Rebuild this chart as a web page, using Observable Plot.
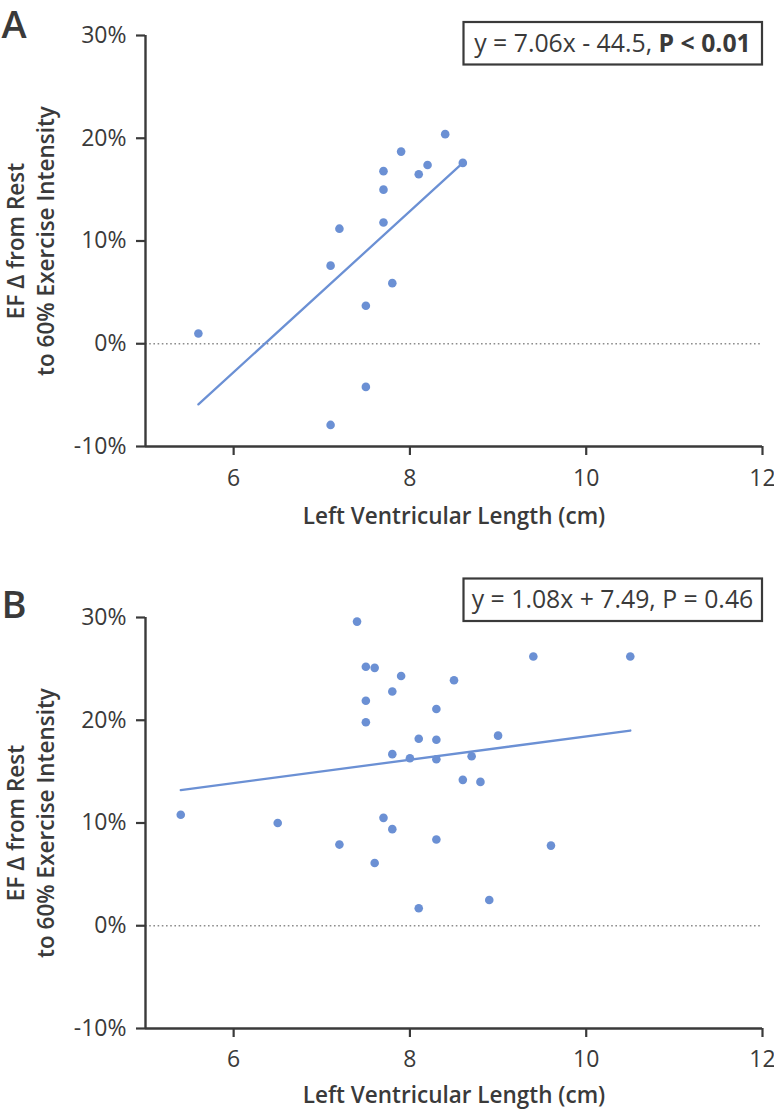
<!DOCTYPE html>
<html>
<head>
<meta charset="utf-8">
<script src="https://cdn.jsdelivr.net/npm/d3@7"></script>
<script src="https://cdn.jsdelivr.net/npm/@observablehq/plot@0.6"></script>
<style>
  html, body { margin: 0; padding: 0; background: #fff; }
  #chart svg { display: block; }
</style>
</head>
<body>
<div id="chart"></div>
<script>
// ---- data ----
const xTicks = [6, 8, 10, 12];
const yTicks = [-10, 0, 10, 20, 30];
const xLabel = "Left Ventricular Length (cm)";
const yLabel = "EF Δ from Rest\nto 60% Exercise Intensity";

// Panel A
const aLength = [5.6, 7.1, 7.2, 7.5, 7.5, 7.1, 7.7, 7.7, 7.7, 7.8, 7.9, 8.1, 8.2, 8.4, 8.6];
const aDelta  = [1.0, 7.6, 11.2, 3.7, -4.2, -7.9, 16.8, 15.0, 11.8, 5.9, 18.7, 16.5, 17.4, 20.4, 17.6];
const aFitX = [5.6, 8.6];
const aFitY = [-5.9, 17.6];
const aEqRegular = "y = 7.06x - 44.5, ";
const aEqBold = "P < 0.01";

// Panel B
const bLength = [7.4, 7.5, 7.6, 7.9, 7.8, 8.5, 7.5, 8.3, 7.5, 8.1, 8.3, 9.0, 7.8, 8.0, 8.3, 8.7, 8.6, 8.8,
                 5.4, 6.5, 7.7, 7.8, 7.2, 8.3, 7.6, 9.6, 8.9, 8.1, 9.4, 10.5];
const bDelta  = [29.6, 25.2, 25.1, 24.3, 22.8, 23.9, 21.9, 21.1, 19.8, 18.2, 18.1, 18.5, 16.7, 16.3, 16.2, 16.5, 14.2, 14.0,
                 10.8, 10.0, 10.5, 9.4, 7.9, 8.4, 6.1, 7.8, 2.5, 1.7, 26.2, 26.2];
const bFitX = [5.4, 10.5];
const bFitY = [13.2, 19.0];
const bEqRegular = "y = 1.08x + 7.49, P = 0.46";
const bEqBold = "";

// ---- styling ----
const FONT = "'Open Sans', 'Noto Sans', sans-serif";
const INK = "#3a3a3a";
const BLUE = "#6b90d4";

function panel({label, xs, ys, fitX, fitY, eqRegular, eqBold, height, marginTop, marginBottom, box}) {
  const pts = xs.map((x, i) => ({x, y: ys[i]}));
  const fit = fitX.map((x, i) => ({x, y: fitY[i]}));
  const plot = Plot.plot({
    width: 774,
    height,
    marginTop,
    marginBottom,
    marginLeft: 145,
    marginRight: 12,
    x: {domain: [5, 12]},
    y: {domain: [-10, 30]},
    style: {fontFamily: FONT, color: INK, background: "#fff", overflow: "visible"},
    marks: [
      Plot.ruleY([0], {stroke: "#8c8c8c", strokeWidth: 1.6, strokeDasharray: "1.6,2.6"}),
      Plot.axisX(xTicks, {tickSize: 9, tickPadding: box.tickPad, strokeWidth: 2.2, fontSize: 23, label: null}),
      Plot.axisY(yTicks, {tickSize: 9, tickPadding: 10, strokeWidth: 2.2, fontSize: 23, label: null,
                          tickFormat: d => d + "%"}),
      Plot.ruleX([5], {stroke: INK, strokeWidth: 2.4}),
      Plot.ruleY([-10], {stroke: INK, strokeWidth: 2.4}),
      Plot.line(fit, {x: "x", y: "y", stroke: BLUE, strokeWidth: 2.3}),
      Plot.dot(pts, {x: "x", y: "y", r: 4.3, fill: BLUE, stroke: "none"}),
      Plot.text([xLabel], {frameAnchor: "bottom", dy: box.xLabelDy, lineAnchor: "middle", fontSize: 22.5, fontWeight: 600}),
      Plot.text([yLabel], {frameAnchor: "left", rotate: -90, textAnchor: "middle", dx: -116, lineAnchor: "middle",
                           lineHeight: 1.35, fontSize: 22.5, fontWeight: 600}),
      Plot.text([label], {frameAnchor: "top-left", textAnchor: "start", lineAnchor: "bottom",
                          dx: -144, dy: box.labelDy, fontSize: 38, fontWeight: 600})
    ]
  });
  // equation annotation box
  const svg = d3.select(plot);
  const g = svg.append("g");
  g.append("rect")
    .attr("x", 463.5).attr("y", box.top)
    .attr("width", 298.5).attr("height", 42.5)
    .attr("fill", "#fff").attr("stroke", INK).attr("stroke-width", 2.2);
  const t = g.append("text")
    .attr("x", 612.5).attr("y", box.baseline)
    .attr("text-anchor", "middle")
    .attr("font-family", FONT).attr("font-size", 24.8).attr("fill", INK);
  t.append("tspan").text(eqRegular);
  if (eqBold) t.append("tspan").attr("font-weight", 700).text(eqBold);
  return plot;
}

const root = document.getElementById("chart");
root.append(panel({
  label: "A", xs: aLength, ys: aDelta, fitX: aFitX, fitY: aFitY,
  eqRegular: aEqRegular, eqBold: aEqBold,
  height: 555, marginTop: 35, marginBottom: 109,
  box: {top: 22, baseline: 51.5, labelDy: 2, xLabelDy: 70, tickPad: 14}
}));
root.append(panel({
  label: "B", xs: bLength, ys: bDelta, fitX: bFitX, fitY: bFitY,
  eqRegular: bEqRegular, eqBold: bEqBold,
  height: 556, marginTop: 62, marginBottom: 83,
  box: {top: 23.5, baseline: 53, labelDy: 0, xLabelDy: 67, tickPad: 13}
}));
</script>
</body>
</html>
